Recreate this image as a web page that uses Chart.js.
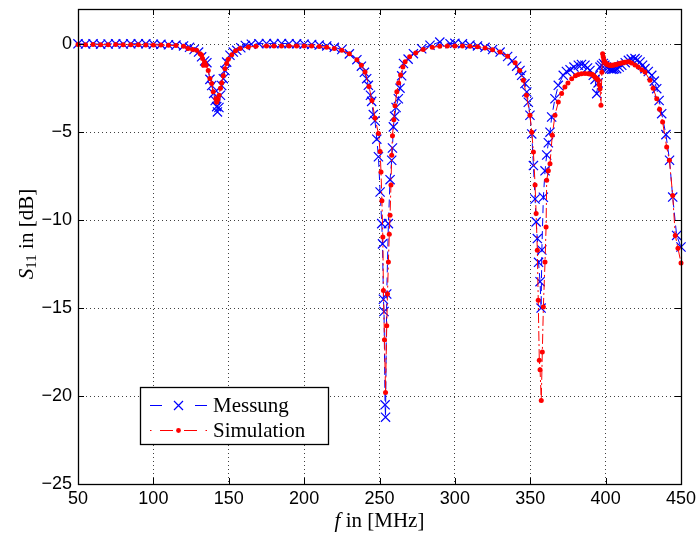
<!DOCTYPE html>
<html lang="de">

<head>
    <meta charset="UTF-8">
    <title>S11</title>
    <style>
        html,
        body {
            margin: 0;
            padding: 0;
            background: #fff;
        }

        canvas {
            display: block;
        }
    </style>
</head>

<body>
    <canvas id="s11Chart" width="698" height="533"></canvas>
</body>

<script src="https://cdn.jsdelivr.net/npm/chart.js@4.4.6/dist/chart.umd.min.js"></script>
<script>
    // measured reflection (MHz / dB)
    const measFreq = [
        50, 55, 60, 65, 70, 75, 80, 85, 90, 95, 100, 105, 110, 115, 120, 124, 127, 130, 132, 134,
        135.5, 137.5, 138.7, 140, 141, 142, 142.5, 143.5, 144.5, 145.3, 146.4, 147.5, 148.6, 150.8, 153, 155.3, 158, 161, 165, 170,
        175, 180, 185, 190, 195, 200, 205, 210, 215, 220, 225, 230, 235, 238, 240, 241.5, 242.6, 244, 244.8, 245.9,
        247, 248.2, 249.3, 250.4, 251.5, 252, 252.6, 253, 253.7, 254, 254.8, 255.9, 257, 258.1, 258.6, 259.2, 260, 261, 262.5, 263.6,
        264.7, 265.9, 269, 272.5, 278, 283.5, 290, 296.8, 300, 305, 310, 315, 320, 325, 330, 335, 338, 341, 343.2, 344.3,
        346.5, 347.7, 348.7, 349.8, 351, 352.1, 353.2, 353.9, 354.7, 355.5, 356.5, 357.2, 357.7, 358.7, 359.8, 360.9, 362, 363.1, 364.2, 366.4,
        368.6, 371.9, 374, 376.4, 379, 381.9, 384, 386.3, 388, 389.6, 391.8, 393, 394.1, 395, 396.3, 397.3, 398.5, 399.5, 400.5, 401.5,
        402.9, 404, 405, 406, 407.3, 409, 410.7, 413, 415.1, 417, 419.5, 421, 422.8, 424.5, 426.1, 428.3, 430.6, 432.3, 433.9, 435.5,
        437.2, 440, 442.4, 444.5, 447.1, 450
    ];
    const measS11 = [
        0.02, 0.01, 0.02, 0.0, 0.01, 0.02, 0.01, 0.02, 0.03, 0.02, 0.0, -0.01, -0.03, -0.05, -0.1, -0.18, -0.3, -0.45, -0.72, -0.95,
        -1.05, -2.0, -2.35, -2.8, -3.2, -3.55, -3.85, -3.6, -2.9, -2.35, -1.96, -1.5, -1.02, -0.63, -0.45, -0.35, -0.2, -0.07, 0.0, 0.03,
        0.04, 0.03, 0.04, 0.03, 0.02, 0.0, -0.02, -0.05, -0.1, -0.18, -0.3, -0.55, -0.88, -1.25, -1.6, -1.96, -2.34, -2.9, -3.25, -4.0,
        -4.35, -5.4, -6.4, -8.4, -10.2, -11.35, -14.5, -15.2, -20.5, -21.2, -14.2, -10.2, -7.7, -6.6, -5.9, -4.7, -4.1, -3.6, -3.1, -2.5,
        -1.8, -1.1, -0.85, -0.54, -0.26, -0.06, 0.12, 0.03, 0.05, 0.02, -0.05, -0.1, -0.18, -0.3, -0.45, -0.7, -0.95, -1.25, -1.49, -1.77,
        -2.24, -2.72, -3.3, -4.04, -5.1, -6.9, -8.8, -10.1, -11.05, -12.4, -13.5, -15.0, -11.7, -8.7, -7.2, -6.3, -5.6, -5.0, -4.14, -3.1,
        -2.34, -1.77, -1.55, -1.45, -1.3, -1.2, -1.15, -1.2, -1.35, -1.49, -1.77, -2.0, -2.81, -2.2, -1.3, -1.2, -1.1, -1.2, -1.3, -1.35,
        -1.39, -1.42, -1.42, -1.4, -1.39, -1.3, -1.2, -1.05, -0.92, -0.85, -0.82, -0.9, -1.01, -1.2, -1.39, -1.55, -1.77, -2.1, -2.53, -3.2,
        -3.95, -5.14, -6.6, -8.69, -10.87, -11.53
    ];

    // simulated reflection (MHz / dB)
    const simFreq = [
        50, 55, 60, 65, 70, 75, 80, 85, 90, 95, 100, 105, 110, 115, 120, 123, 126, 128.7, 131, 132,
        132.6, 133.2, 134, 135, 136.4, 137.5, 138.7, 139.7, 141.4, 142, 142.8, 143.6, 144.5, 145.3, 146.4, 147.5, 148.6, 149.7, 152, 154.5,
        157.5, 163, 168, 175, 180, 185, 190, 195, 200, 205, 210, 215, 220, 225, 230, 235, 238, 240.4, 243, 245,
        247, 249.3, 250.4, 251, 251.6, 252.2, 252.6, 253.3, 254, 254.8, 255.3, 255.9, 256.5, 257, 257.6, 258.1, 258.6, 259.5, 260.3, 261.5,
        262.7, 264, 265.5, 267, 270, 274, 279, 285, 290, 295, 300, 305, 310, 315, 320, 325, 330, 335, 340, 343,
        345.4, 347.5, 349.8, 351, 352.1, 353.2, 353.9, 354.7, 355.3, 356, 356.5, 357.3, 358, 358.7, 359.8, 360.5, 360.9, 362, 363.1, 364.6,
        366.4, 368.6, 370.8, 373, 375, 377.5, 380, 381.9, 384, 386.3, 388.5, 389.6, 390.7, 391.5, 392.2, 392.9, 393.5, 394, 394.6, 395.1,
        395.8, 396.3, 396.9, 397.5, 398, 398.4, 398.8, 399.3, 399.8, 400.3, 400.8, 401.3, 401.9, 402.5, 403.2, 403.9, 404.6, 405.5, 406.3, 407,
        408, 409.4, 410.5, 411.5, 412.7, 413.9, 415.5, 417.2, 419.5, 421.6, 424, 426.1, 429.4, 431.5, 433.9, 435.8, 437.8, 440.5, 442.3, 444.5,
        446.2, 448, 450
    ];
    const simS11 = [
        -0.02, -0.03, -0.02, -0.03, -0.03, -0.02, -0.03, -0.03, -0.03, -0.04, -0.04, -0.05, -0.06, -0.08, -0.12, -0.25, -0.3, -0.35, -0.54, -0.62,
        -0.82, -1.2, -1.02, -1.2, -1.5, -1.95, -2.24, -2.7, -3.1, -3.3, -3.15, -2.9, -2.5, -2.2, -1.8, -1.4, -1.1, -0.86, -0.6, -0.38,
        -0.25, -0.16, -0.12, -0.1, -0.1, -0.1, -0.1, -0.1, -0.1, -0.11, -0.13, -0.18, -0.25, -0.35, -0.55, -0.88, -1.2, -1.58, -2.4, -3.2,
        -4.2, -5.08, -6.1, -7.27, -8.9, -10.96, -14.0, -16.8, -19.8, -16.0, -14.2, -12.38, -10.8, -9.73, -8.0, -6.32, -5.2, -4.3, -3.5, -2.7,
        -2.2, -1.75, -1.3, -1.0, -0.72, -0.5, -0.3, -0.18, -0.12, -0.1, -0.1, -0.1, -0.12, -0.15, -0.22, -0.32, -0.45, -0.68, -1.05, -1.5,
        -2.05, -2.9, -4.04, -5.0, -6.13, -8.0, -9.63, -11.72, -14.56, -17.97, -18.5, -20.25, -17.5, -14.94, -12.38, -10.39, -7.74, -7.2, -6.8, -5.18,
        -4.04, -3.29, -2.81, -2.43, -2.2, -1.96, -1.8, -1.73, -1.68, -1.67, -1.68, -1.69, -1.71, -1.74, -1.79, -1.87, -1.92, -1.95, -2.0, -2.05,
        -2.3, -2.53, -3.47, -1.6, -0.54, -0.72, -0.88, -1.0, -1.06, -1.1, -1.14, -1.16, -1.18, -1.2, -1.2, -1.2, -1.2, -1.18, -1.17, -1.15,
        -1.13, -1.1, -1.07, -1.05, -1.03, -1.01, -1.0, -1.07, -1.18, -1.3, -1.45, -1.58, -2.05, -2.5, -3.1, -3.7, -4.42, -5.85, -6.6, -8.6,
        -10.87, -11.6, -12.44
    ];

    const xTicks = [50, 100, 150, 200, 250, 300, 350, 400, 450];
    const yTicks = [-25, -20, -15, -10, -5, 0];
    const seriesNames = ['Messung', 'Simulation'];

    const sansFont = '"Liberation Sans", Arial, sans-serif';
    const serifFont = '"Liberation Serif", "Times New Roman", serif';
    const measDash = [8, 5];
    const simDash = [10, 3, 2, 3];

    // draws a run of text pieces (font, text, dy) centred on 0,0
    function drawPieces(ctx, pieces) {
        let width = 0;
        pieces.forEach(p => {
            ctx.font = p.font;
            width += ctx.measureText(p.text).width;
        });
        let pos = -width / 2;
        pieces.forEach(p => {
            ctx.font = p.font;
            ctx.fillText(p.text, pos, p.dy || 0);
            pos += ctx.measureText(p.text).width;
        });
    }

    // MATLAB style box, inward ticks, axis labels and legend
    const matlabFrame = {
        id: 'matlabFrame',
        afterDatasetsDraw(chart) {
            const { ctx, chartArea: a, scales: { x, y } } = chart;
            ctx.save();
            ctx.strokeStyle = '#000';
            ctx.setLineDash([]);
            ctx.lineWidth = 1;
            ctx.beginPath();
            xTicks.forEach(v => {
                const px = Math.round(x.getPixelForValue(v)) + 0.5;
                ctx.moveTo(px, a.bottom);
                ctx.lineTo(px, a.bottom - 6);
                ctx.moveTo(px, a.top);
                ctx.lineTo(px, a.top + 6);
            });
            yTicks.forEach(v => {
                const py = Math.round(y.getPixelForValue(v)) + 0.5;
                ctx.moveTo(a.left, py);
                ctx.lineTo(a.left + 6, py);
                ctx.moveTo(a.right, py);
                ctx.lineTo(a.right - 6, py);
            });
            ctx.stroke();
            ctx.lineWidth = 1.3;
            ctx.strokeRect(Math.round(a.left) + 0.5, Math.round(a.top) + 0.5,
                Math.round(a.right - a.left), Math.round(a.bottom - a.top));
            ctx.restore();
        },
        afterDraw(chart) {
            const { ctx, chartArea: a } = chart;
            ctx.save();
            ctx.fillStyle = '#000';
            ctx.textBaseline = 'middle';
            ctx.textAlign = 'left';

            // x axis label
            ctx.save();
            ctx.translate((a.left + a.right) / 2, 521);
            drawPieces(ctx, [
                { font: 'italic 21px ' + serifFont, text: 'f' },
                { font: '21px ' + serifFont, text: ' in [MHz]' },
            ]);
            ctx.restore();

            // y axis label
            ctx.save();
            ctx.translate(27, 234);
            ctx.rotate(-Math.PI / 2);
            drawPieces(ctx, [
                { font: 'italic 21px ' + serifFont, text: 'S' },
                { font: '15px ' + serifFont, text: '11', dy: 5 },
                { font: '21px ' + serifFont, text: ' in [dB]' },
            ]);
            ctx.restore();

            // legend box
            const box = { left: 140, top: 387, right: 328, bottom: 444 };
            ctx.fillStyle = '#fff';
            ctx.fillRect(box.left, box.top, box.right - box.left, box.bottom - box.top);
            ctx.strokeStyle = '#000';
            ctx.lineWidth = 1.3;
            ctx.strokeRect(box.left + 0.5, box.top + 0.5, box.right - box.left, box.bottom - box.top);

            const rows = [405, 430];
            // Messung: dash, cross, dash
            ctx.strokeStyle = '#0000ff';
            ctx.lineWidth = 1.2;
            ctx.beginPath();
            ctx.moveTo(150, rows[0] + 0.5);
            ctx.lineTo(162, rows[0] + 0.5);
            ctx.moveTo(195, rows[0] + 0.5);
            ctx.lineTo(207, rows[0] + 0.5);
            ctx.stroke();
            ctx.beginPath();
            ctx.moveTo(174, rows[0] - 4);
            ctx.lineTo(183, rows[0] + 5);
            ctx.moveTo(183, rows[0] - 4);
            ctx.lineTo(174, rows[0] + 5);
            ctx.stroke();
            // Simulation: dot, dash, marker, dash, dot
            ctx.strokeStyle = '#ff0000';
            ctx.lineWidth = 1;
            ctx.beginPath();
            [[150, 151.5], [160, 173], [184, 197], [205.5, 207]].forEach(([s, e]) => {
                ctx.moveTo(s, rows[1] + 0.5);
                ctx.lineTo(e, rows[1] + 0.5);
            });
            ctx.stroke();
            ctx.fillStyle = '#ff0000';
            ctx.beginPath();
            ctx.arc(178.5, rows[1] + 0.5, 2.4, 0, Math.PI * 2);
            ctx.fill();

            ctx.fillStyle = '#000';
            ctx.font = '21px ' + serifFont;
            seriesNames.forEach((name, i) => ctx.fillText(name, 213, rows[i] + 1));
            ctx.restore();
        }
    };

    const s11Chart = new Chart(document.getElementById('s11Chart'), {
        type: 'line',
        data: {
            datasets: [{
                label: seriesNames[0],
                data: measFreq.map((f, i) => ({ x: f, y: measS11[i] })),
                borderColor: '#0000ff',
                backgroundColor: '#0000ff',
                borderWidth: 1,
                borderDash: measDash,
                pointStyle: 'crossRot',
                pointRadius: 6.5,
                pointBorderWidth: 1.2,
                pointBorderColor: '#0000ff',
                clip: false,
                order: 2,
            }, {
                label: seriesNames[1],
                data: simFreq.map((f, i) => ({ x: f, y: simS11[i] })),
                borderColor: '#ff0000',
                backgroundColor: '#ff0000',
                borderWidth: 1,
                borderDash: simDash,
                pointStyle: 'circle',
                pointRadius: 2.5,
                pointBorderWidth: 0,
                pointBackgroundColor: '#ff0000',
                clip: false,
                order: 1,
            }]
        },
        options: {
            responsive: false,
            animation: false,
            devicePixelRatio: 1,
            layout: { padding: { top: 9, right: 17, bottom: 0, left: 0 } },
            scales: {
                x: {
                    type: 'linear',
                    min: 50,
                    max: 450,
                    afterBuildTicks: s => { s.ticks = xTicks.map(v => ({ value: v })); },
                    afterFit: s => {
                        s.height = 49;
                        s.paddingLeft = 0;
                        s.paddingRight = 0;
                    },
                    ticks: {
                        color: '#000',
                        font: { family: sansFont, size: 18 },
                        padding: 4,
                        maxRotation: 0,
                        autoSkip: false,
                    },
                    grid: { color: 'rgba(0,0,0,0.75)', lineWidth: 1, drawTicks: false },
                    border: { display: false, dash: [1, 3] },
                },
                y: {
                    type: 'linear',
                    min: -25,
                    max: 2,
                    afterBuildTicks: s => { s.ticks = yTicks.map(v => ({ value: v })); },
                    afterFit: s => {
                        s.width = 78;
                        s.paddingTop = 0;
                        s.paddingBottom = 0;
                    },
                    ticks: {
                        color: '#000',
                        font: { family: sansFont, size: 18 },
                        padding: 6,
                        callback: v => String(v).replace('-', '\u2212'),
                    },
                    grid: { color: 'rgba(0,0,0,0.75)', lineWidth: 1, drawTicks: false },
                    border: { display: false, dash: [1, 3] },
                }
            },
            plugins: {
                legend: { display: false },
                tooltip: { enabled: false },
            },
        },
        plugins: [matlabFrame],
    });
</script>

</html>
